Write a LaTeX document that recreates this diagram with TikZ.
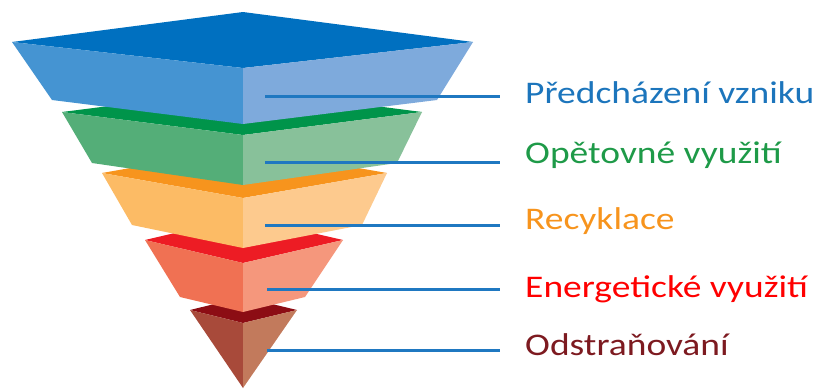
\documentclass[tikz,border=0pt]{standalone}
\usepackage{fontspec}
\setmainfont{Carlito}
\usetikzlibrary{calc}

\definecolor{bluetop}{HTML}{0070C0}
\definecolor{blueleft}{HTML}{4594D2}
\definecolor{blueright}{HTML}{7EAADC}
\definecolor{greentop}{HTML}{00944A}
\definecolor{greenleft}{HTML}{54AE78}
\definecolor{greenright}{HTML}{88C19A}
\definecolor{orangetop}{HTML}{F7941D}
\definecolor{orangeleft}{HTML}{FCBB65}
\definecolor{orangeright}{HTML}{FDCA8E}
\definecolor{redtop}{HTML}{ED1C24}
\definecolor{redleft}{HTML}{F07153}
\definecolor{redright}{HTML}{F5977C}
\definecolor{browntop}{HTML}{8C0D14}
\definecolor{brownleft}{HTML}{A84A3A}
\definecolor{brownright}{HTML}{C27A5C}
\definecolor{leadblue}{HTML}{1F78C1}
\definecolor{txtblue}{HTML}{1C75BC}
\definecolor{txtgreen}{HTML}{1E9A48}
\definecolor{txtorange}{HTML}{F7941D}
\definecolor{txtred}{HTML}{FF0000}
\definecolor{txtbrown}{HTML}{7D1A20}

\tikzset{
	face/.style={line join=round},
	leader/.style={draw=leadblue, line width=3pt, shorten >=25pt},
	lbl/.style={anchor=base west, inner sep=0pt, xscale=1.19, transform shape,
		font=\fontsize{31.5}{36}\selectfont}
}

\begin{document}
\begin{tikzpicture}[x=1pt, y=-1pt]
	\useasboundingbox (0,0) rectangle (829,389);
	% Layers, bottom first:
	\fill[face, browntop] (190,310) -- (243,297) -- (297,310) -- (243,323) -- cycle;
	\fill[face, brownleft] (190,310) -- (243,323) -- (243,388) -- cycle;
	\fill[face, brownright] (243,323) -- (297,310) -- (243,388) -- cycle;

	\fill[face, redtop] (145,240) -- (243,217) -- (343,240) -- (243,263) -- cycle;
	\fill[face, redleft] (145,240) -- (243,263) -- (243,312) -- (180,297) -- cycle;
	\fill[face, redright] (243,263) -- (343,240) -- (305,297) -- (243,312) -- cycle;

	\fill[face, orangetop] (102,173) -- (243,148) -- (387,173) -- (243,198) -- cycle;
	\fill[face, orangeleft] (102,173) -- (243,198) -- (243,248) -- (132,225) -- cycle;
	\fill[face, orangeright] (243,198) -- (387,173) -- (362,225) -- (243,248) -- cycle;

	\fill[face, greentop] (62,112) -- (243,89) -- (422,112) -- (243,135) -- cycle;
	\fill[face, greenleft] (62,112) -- (243,135) -- (243,185) -- (92,163) -- cycle;
	\fill[face, greenright] (243,135) -- (422,112) -- (397,163) -- (243,185) -- cycle;

	\fill[face, bluetop] (12,42) -- (243,12) -- (473,42) -- (243,68) -- cycle;
	\fill[face, blueleft] (12,42) -- (243,68) -- (243,124) -- (52,100) -- cycle;
	\fill[face, blueright] (243,68) -- (473,42) -- (437,100) -- (243,124) -- cycle;

	% Labels:
	\node[lbl, text=txtblue] (t1) at (525,103) {Předcházení vzniku};
	\node[lbl, text=txtgreen] (t2) at (525,163) {Opětovné využití};
	\node[lbl, text=txtorange] (t3) at (525,229) {Recyklace};
	\node[lbl, text=txtred] (t4) at (525,297) {Energetické využití};
	\node[lbl, text=txtbrown] (t5) at (525,355) {Odstraňování};

	% Leader lines:
	\coordinate (p1) at (265,96);
	\coordinate (p2) at (265,162);
	\coordinate (p3) at (265,225);
	\coordinate (p4) at (267,289);
	\coordinate (p5) at (267,350);
	\draw[leader] (p1) -- (p1 -| t1.west);
	\draw[leader] (p2) -- (p2 -| t2.west);
	\draw[leader] (p3) -- (p3 -| t3.west);
	\draw[leader] (p4) -- (p4 -| t4.west);
	\draw[leader] (p5) -- (p5 -| t5.west);
\end{tikzpicture}
\end{document}
